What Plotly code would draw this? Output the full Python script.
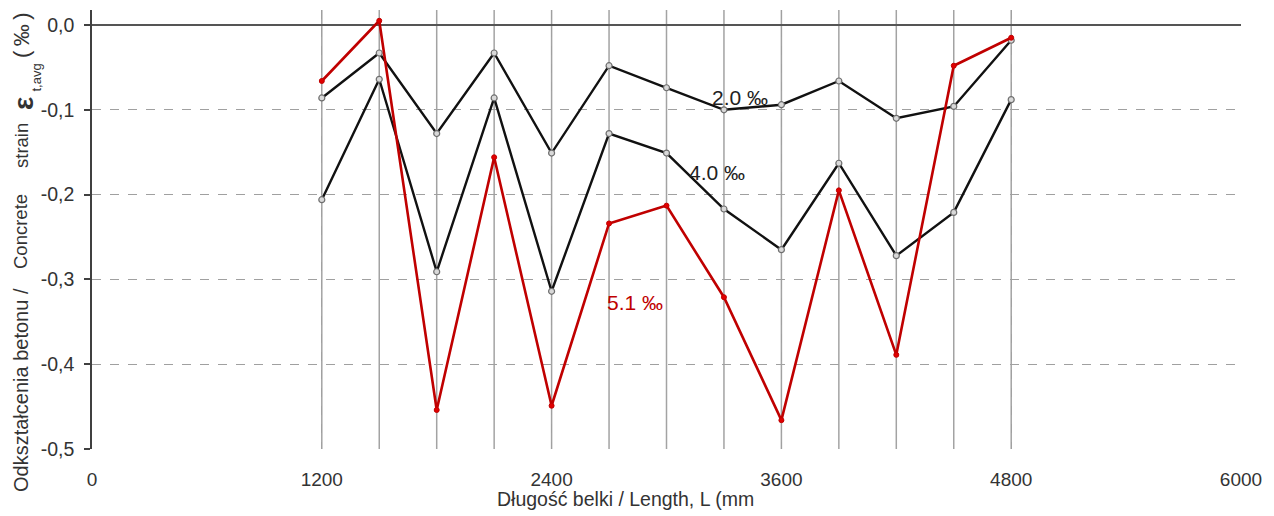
import plotly.graph_objects as go

# ---- data ----
length_mm = [1200, 1500, 1800, 2100, 2400, 2700, 3000, 3300, 3600, 3900, 4200, 4500, 4800]
strain_2_0 = [-0.086, -0.033, -0.128, -0.033, -0.151, -0.048, -0.074, -0.100, -0.094, -0.066, -0.110, -0.096, -0.018]
strain_4_0 = [-0.206, -0.064, -0.291, -0.086, -0.314, -0.128, -0.151, -0.217, -0.265, -0.163, -0.272, -0.221, -0.088]
strain_5_1 = [-0.066, 0.005, -0.454, -0.156, -0.449, -0.234, -0.213, -0.321, -0.466, -0.195, -0.389, -0.048, -0.015]

x_ticks = [0, 1200, 2400, 3600, 4800, 6000]
x_ticklabels = ["0", "1200", "2400", "3600", "4800", "6000"]
y_ticks = [-0.5, -0.4, -0.3, -0.2, -0.1, 0.0]
y_ticklabels = ["-0,5", "-0,4", "-0,3", "-0,2", "-0,1", "0,0"]

series_labels = ["2.0 ‰", "4.0 ‰", "5.1 ‰"]
x_title = "Długość belki / Length, L (mm"

FONT = "Liberation Sans, Arial, sans-serif"
TXT = "#333333"

# body margin is removed in the page (post_script), so figure starts at 0,0
W, H = 1274, 516
ML, MR, MT, MB = 92, 33, 10, 67
PL, PT = ML, MT
PW, PH = W - ML - MR, H - MT - MB


def px(xpix):
    return (xpix - PL) / PW


def py(ypix):
    return (PT + PH - ypix) / PH


fig = go.Figure()

black_marker = dict(symbol="circle", size=6, color="#d9d9d9",
                    line=dict(color="#6e6e6e", width=1.2))
for ys in (strain_2_0, strain_4_0):
    fig.add_trace(go.Scatter(x=length_mm, y=ys, mode="lines+markers",
                             line=dict(color="#111111", width=2.4),
                             marker=black_marker, showlegend=False))

fig.add_trace(go.Scatter(x=length_mm, y=strain_5_1, mode="lines+markers",
                         line=dict(color="#c00000", width=2.6),
                         marker=dict(symbol="circle", size=5, color="#e00000",
                                     line=dict(color="#c00000", width=1)),
                         showlegend=False))

# vertical drop lines at each measuring point
for xv in length_mm:
    fig.add_shape(type="line", xref="x", yref="paper", x0=xv, x1=xv, y0=0, y1=1,
                  line=dict(color="#a3a3a3", width=1.5), layer="between")

# series labels
label_pos = [(3386, -0.086), (3266, -0.1745), (2838, -0.327)]
label_col = ["#222222", "#222222", "#c00000"]
for (lx, ly), txt, col in zip(label_pos, series_labels, label_col):
    fig.add_annotation(x=lx, y=ly, xref="x", yref="y", text=txt, showarrow=False,
                       font=dict(family=FONT, size=21, color=col),
                       xanchor="center", yanchor="middle")

# x axis title
fig.add_annotation(x=px(625), y=py(499), xref="paper", yref="paper",
                   text=x_title, showarrow=False,
                   font=dict(family=FONT, size=19.5, color=TXT),
                   xanchor="center", yanchor="middle")

# y axis title, in pieces (rotated)
ytitle_parts = [
    ("Odkształcenia betonu /", 21, 390, 20),
    ("Concrete", 21, 232, 18.5),
    ("strain", 21, 146, 18.5),
    ("<b>ε</b>", 23, 104, 28),
    ("t,avg", 36, 77.5, 13),
    ("(\u2009‰\u2009)", 21, 36, 22),
]
for txt, xx, yy, fs in ytitle_parts:
    fig.add_annotation(x=px(xx), y=py(yy), xref="paper", yref="paper",
                       text=txt, showarrow=False, textangle=-90,
                       font=dict(family=FONT, size=fs, color=TXT),
                       xanchor="center", yanchor="middle")

fig.update_layout(
    width=W, height=H, autosize=False,
    margin=dict(l=ML, r=MR, t=MT, b=MB),
    paper_bgcolor="white", plot_bgcolor="white",
    font=dict(family=FONT, size=19, color=TXT),
    showlegend=False,
)

fig.update_xaxes(range=[0, 6000], tickvals=x_ticks, ticktext=x_ticklabels,
                 showgrid=True, gridcolor="#a0a0a0", griddash="dash", gridwidth=1,
                 showline=False, zeroline=False, ticks="",
                 ticklabelstandoff=17,
                 tickfont=dict(family=FONT, size=19, color=TXT))

fig.update_yaxes(range=[-0.5, 0.0177], tickvals=y_ticks, ticktext=y_ticklabels,
                 showgrid=True, gridcolor="#a0a0a0", griddash="dash", gridwidth=1,
                 showline=True, linecolor="#404040", linewidth=1.5,
                 ticks="outside", ticklen=6, tickcolor="#404040", tickwidth=1.5,
                 zeroline=True, zerolinecolor="#555555", zerolinewidth=1.6,
                 ticklabelstandoff=6,
                 tickfont=dict(family=FONT, size=19.5, color=TXT))

fig.write_html("out.html",
               config={"displayModeBar": False},
               post_script="document.body.style.margin='0';"
                           "document.body.style.overflow='hidden';")
